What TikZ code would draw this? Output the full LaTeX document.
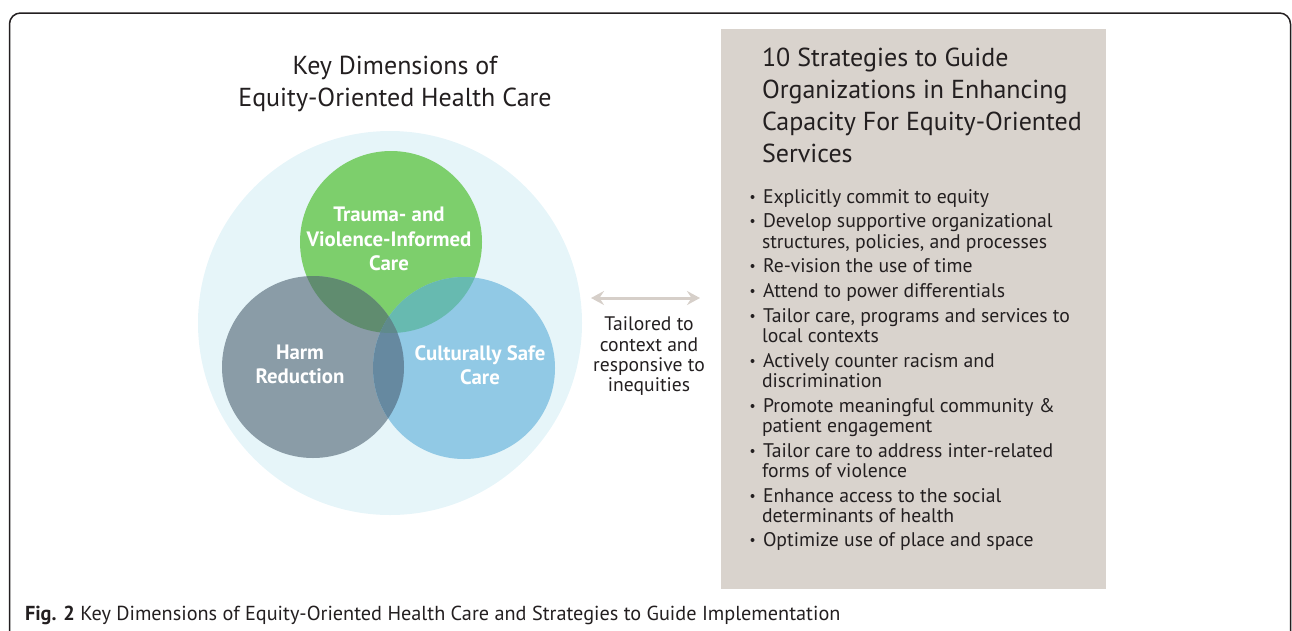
\documentclass[tikz,border=0pt]{standalone}
\usepackage{fontspec}
\setmainfont{PT Sans}
\usetikzlibrary{arrows.meta}
\definecolor{ink}{HTML}{231F20}
\definecolor{outerc}{HTML}{E6F5F9}
\definecolor{greenc}{HTML}{7DCF6C}
\definecolor{grayc}{HTML}{8A9CA7}
\definecolor{bluec}{HTML}{91C9E5}
\definecolor{ggc}{HTML}{608C6F}
\definecolor{gbc}{HTML}{67BAB0}
\definecolor{bgc}{HTML}{6689A0}
\definecolor{allc}{HTML}{5F8A8C}
\definecolor{boxc}{HTML}{D9D3CD}
\definecolor{arrowc}{HTML}{D6CFC9}
\tikzset{
  txt/.style={inner sep=0pt, outer sep=0pt, text=ink},
  bigtitle/.style={txt, anchor=base, font=\fontsize{26}{32}\selectfont},
  righttitle/.style={txt, anchor=base west, font=\fontsize{26}{32}\selectfont},
  item/.style={txt, anchor=base west, font=\fontsize{19.7}{21}\selectfont},
  captext/.style={txt, anchor=base west, font=\fontsize{20.25}{22}\selectfont},
  tail/.style={txt, anchor=base, font=\fontsize{19.6}{20}\selectfont},
  clabel/.style={inner sep=0pt, anchor=base, text=white, font=\fontsize{20.8}{24}\selectfont\bfseries},
  venn/.style={circle, inner sep=0pt, minimum size=182pt},
  dot/.style={circle, fill=ink, inner sep=0pt, minimum size=4pt},
}
\begin{document}
\begin{tikzpicture}[x=1pt,y=-1pt]
\useasboundingbox (0,0) rectangle (1292,630);
% frame
\draw[line width=1.5pt, ink, rounded corners=11pt] (9.5,660) -- (9.5,13) -- (1290.5,13) -- (1290.5,660);
% right box
\fill[boxc] (721,29) rectangle (1106,589);
% left title
\node[bigtitle] (t1) at (395,74) {Key Dimensions of};
\node[bigtitle] (t2) at (395,106) {Equity-Oriented Health Care};
% outer circle
\node[circle, fill=outerc, inner sep=0pt, minimum size=384pt] (outer) at (390,323) {};
% venn circles
\node[venn, fill=greenc] (tv) at (391,242) {};
\node[venn, fill=grayc] (hr) at (313,367) {};
\node[venn, fill=bluec] (cs) at (464,368) {};
\begin{scope}
  \clip (391,242) circle (91pt);
  \fill[ggc] (313,367) circle (91pt);
  \fill[gbc] (464,368) circle (91pt);
\end{scope}
\begin{scope}
  \clip (313,367) circle (91pt);
  \fill[bgc] (464,368) circle (91pt);
  \clip (464,368) circle (91pt);
  \fill[allc] (391,242) circle (91pt);
\end{scope}
% venn labels
\node[clabel] (l1) at (389,221.5) {Trauma- and};
\node[clabel] (l2) at (389,246) {Violence-Informed};
\node[clabel] (l3) at (389,270) {Care};
\node[clabel] (l4) at (300,359.5) {Harm};
\node[clabel] (l5) at (300,383.5) {Reduction};
\node[clabel] (l6) at (480,360) {Culturally Safe};
\node[clabel] (l7) at (480,384) {Care};
% arrow
\coordinate (al) at (591,298);
\coordinate (ar) at (700,298);
\draw[arrowc, line width=3pt, {Stealth[length=13pt,width=14pt,inset=4.5pt]}-{Stealth[length=13pt,width=14pt,inset=4.5pt]}] (al) -- (ar);
\node[tail] (m1) at (649,330.7) {Tailored to};
\node[tail] (m2) at (649,351) {context and};
\node[tail] (m3) at (649,371.5) {responsive to};
\node[tail] (m4) at (649,391) {inequities};
% right title
\node[righttitle] (r1) at (762,66) {10 Strategies to Guide};
\node[righttitle] (r2) at (762,98) {Organizations in Enhancing};
\node[righttitle] (r3) at (762,130) {Capacity For Equity-Oriented};
\node[righttitle] (r4) at (762,162) {Services};
% bullets
\foreach \y in {203,227,272,297,322,367,412,457,502,546}
  \node[dot] at (752.5,\y-6) {};
\node[item] (b1) at (763,203) {Explicitly commit to equity};
\node[item] (b2) at (763,227) {Develop supportive organizational};
\node[item] (b2b) at (762,248) {structures, policies, and processes};
\node[item] (b3) at (763,272) {Re-vision the use of time};
\node[item] (b4) at (763,297) {Attend to power differentials};
\node[item] (b5) at (763,322) {Tailor care, programs and services to};
\node[item] (b5b) at (762,342) {local contexts};
\node[item] (b6) at (763,367) {Actively counter racism and};
\node[item] (b6b) at (762,387) {discrimination};
\node[item] (b7) at (763,412) {Promote meaningful community \&};
\node[item] (b7b) at (762,432) {patient engagement};
\node[item] (b8) at (763,457) {Tailor care to address inter-related};
\node[item] (b8b) at (762,477) {forms of violence};
\node[item] (b9) at (763,502) {Enhance access to the social};
\node[item] (b9b) at (762,522) {determinants of health};
\node[item] (b10) at (763,546) {Optimize use of place and space};
% caption
\node[captext] (cap) at (25,620) {\textbf{Fig. 2} Key Dimensions of Equity-Oriented Health Care and Strategies to Guide Implementation};
\end{tikzpicture}
\end{document}
